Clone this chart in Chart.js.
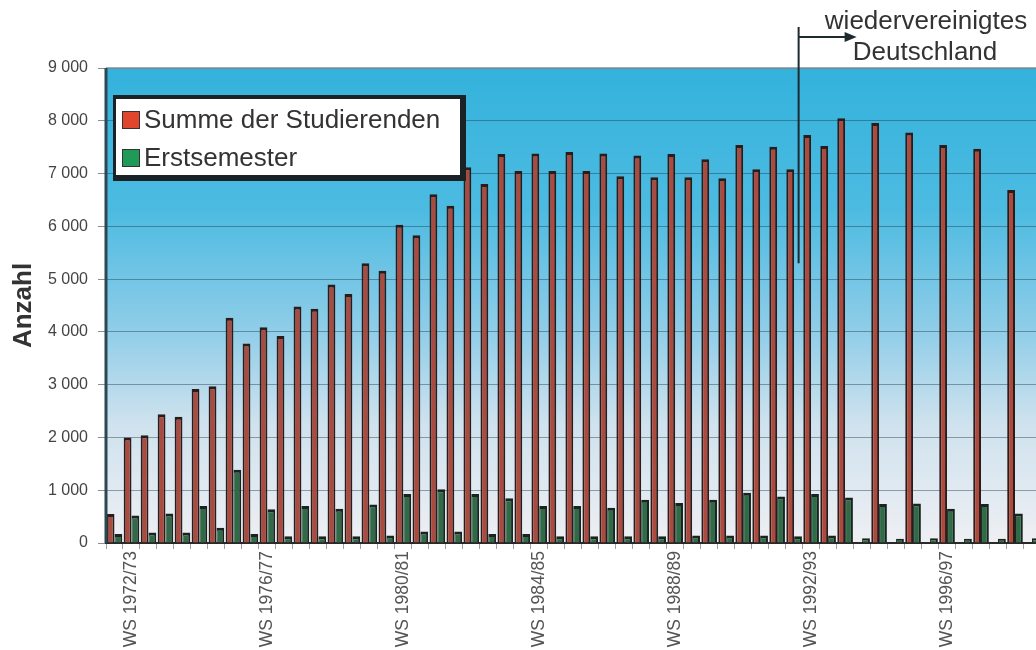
<!DOCTYPE html>
<html>
<head>
<meta charset="utf-8">
<script src="https://cdn.jsdelivr.net/npm/chart.js@4/dist/chart.umd.min.js"></script>
<style>
  html, body { margin: 0; padding: 0; background: #fff; overflow: hidden; }
  #wrap { width: 1036px; height: 650px; overflow: hidden; position: relative; }
  #inner { width: 1055px; height: 650px; position: absolute; left: 0; top: 0; }
</style>
</head>
<body>
<div id="wrap"><div id="inner"><canvas id="studChart"></canvas></div></div>
<script>
// Semester (SS = Sommersemester, WS = Wintersemester)
const semesters = [
  "SS 1972", "WS 1972/73", "SS 1973", "WS 1973/74", "SS 1974", "WS 1974/75",
  "SS 1975", "WS 1975/76", "SS 1976", "WS 1976/77", "SS 1977", "WS 1977/78",
  "SS 1978", "WS 1978/79", "SS 1979", "WS 1979/80", "SS 1980", "WS 1980/81",
  "SS 1981", "WS 1981/82", "SS 1982", "WS 1982/83", "SS 1983", "WS 1983/84",
  "SS 1984", "WS 1984/85", "SS 1985", "WS 1985/86", "SS 1986", "WS 1986/87",
  "SS 1987", "WS 1987/88", "SS 1988", "WS 1988/89", "SS 1989", "WS 1989/90",
  "SS 1990", "WS 1990/91", "SS 1991", "WS 1991/92", "SS 1992", "WS 1992/93",
  "SS 1993", "WS 1993/94", "SS 1994", "WS 1994/95", "SS 1995", "WS 1995/96",
  "SS 1996", "WS 1996/97", "SS 1997", "WS 1997/98", "SS 1998", "WS 1998/99",
  "SS 1999"
];

// Summe der Studierenden
const summeStudierende = [
  550, 2000, 2040, 2440, 2390, 2920, 2970, 4270, 3780, 4090, 3920, 4480,
  4440, 4900, 4720, 5300, 5160, 6030, 5830, 6610, 6390, 7120, 6800, 7370,
  7050, 7380, 7050, 7410, 7050, 7380, 6950, 7340, 6930, 7370, 6930, 7270,
  6910, 7540, 7080, 7510, 7080, 7730, 7520, 8050, null, 7960, null, 7780,
  null, 7540, null, 7470, null, 6690, null
];

// Erstsemester
const erstsemester = [
  170, 520, 200, 560, 200, 700, 290, 1390, 170, 640, 130, 700,
  130, 650, 130, 730, 140, 930, 220, 1020, 220, 930, 170, 850,
  170, 700, 130, 700, 130, 670, 130, 820, 130, 760, 140, 820,
  140, 950, 140, 880, 130, 930, 140, 860, 90, 740, 80, 750,
  90, 650, 80, 740, 80, 560, 90
];

const yTicks = [0, 1000, 2000, 3000, 4000, 5000, 6000, 7000, 8000, 9000];

// first semester after the reunification marker
const wendeIndex = semesters.indexOf("WS 1992/93");

const fmt = (v) => String(v).replace(/\B(?=(\d{3})+(?!\d))/g, " ");

// gradient background of the plot area
const bgPlugin = {
  id: "bg",
  beforeDraw(chart) {
    const { ctx, chartArea: a } = chart;
    const g = ctx.createLinearGradient(0, a.top, 0, a.bottom);
    g.addColorStop(0, "#33b2dc");
    g.addColorStop(0.3, "#4dbbe1");
    g.addColorStop(0.55, "#8fcde8");
    g.addColorStop(0.75, "#cfe2ee");
    g.addColorStop(1, "#eeeff3");
    ctx.save();
    ctx.fillStyle = g;
    ctx.fillRect(a.left, a.top, a.right - a.left, a.bottom - a.top);
    ctx.restore();
  },
  afterDatasetsDraw(chart) {
    const { ctx, chartArea: a } = chart;
    ctx.save();
    // top border
    ctx.strokeStyle = "#8a8f94";
    ctx.lineWidth = 1.5;
    ctx.beginPath();
    ctx.moveTo(a.left, a.top);
    ctx.lineTo(a.right, a.top);
    ctx.stroke();
    // left wall
    ctx.strokeStyle = "#2c4852";
    ctx.lineWidth = 3;
    ctx.beginPath();
    ctx.moveTo(a.left, a.top);
    ctx.lineTo(a.left, a.bottom);
    ctx.stroke();
    ctx.restore();
  }
};

// legend box inside the plot
const legendPlugin = {
  id: "legendBox",
  afterDraw(chart) {
    const { ctx, chartArea: a } = chart;
    const x = a.left + 7, y = 95, w = 350, h = 83;
    ctx.save();
    ctx.fillStyle = "#1b2226";
    ctx.fillRect(x, y, w + 3, h + 3);
    ctx.fillStyle = "#ffffff";
    ctx.fillRect(x + 3, y + 4, w - 6, h - 7);
    const boxColors = ["#e0462e", "#1f9a57"];
    ctx.font = "26px 'Liberation Sans', Arial, sans-serif";
    ctx.textBaseline = "middle";
    chart.data.datasets.forEach((ds, i) => {
      const cy = y + 25 + i * 38;
      ctx.fillStyle = "#333";
      ctx.fillRect(x + 9, cy - 9, 18, 18);
      ctx.fillStyle = boxColors[i];
      ctx.fillRect(x + 10, cy - 8, 16, 16);
      ctx.fillStyle = "#333";
      ctx.fillText(ds.label, x + 31, cy + 1);
    });
    ctx.restore();
  }
};

// reunification marker with arrow and text
const wendePlugin = {
  id: "wende",
  afterDraw(chart) {
    const { ctx } = chart;
    const xs = chart.scales.x, ys = chart.scales.y;
    const lx = (xs.getPixelForValue(wendeIndex - 1) + xs.getPixelForValue(wendeIndex)) / 2 - 4;
    const yBottom = ys.getPixelForValue(5300);
    ctx.save();
    ctx.strokeStyle = "#1f2a30";
    ctx.lineWidth = 2;
    ctx.beginPath();
    ctx.moveTo(lx, 27);
    ctx.lineTo(lx, yBottom);
    ctx.moveTo(lx, 37);
    ctx.lineTo(lx + 48, 37);
    ctx.stroke();
    ctx.fillStyle = "#1f2a30";
    ctx.beginPath();
    ctx.moveTo(lx + 58, 37);
    ctx.lineTo(lx + 46, 32);
    ctx.lineTo(lx + 46, 42);
    ctx.closePath();
    ctx.fill();
    ctx.fillStyle = "#333";
    ctx.font = "26px 'Liberation Sans', Arial, sans-serif";
    ctx.textAlign = "center";
    ctx.textBaseline = "middle";
    ctx.fillText("wiedervereinigtes", 926, 22);
    ctx.fillText("Deutschland", 925, 53);
    ctx.restore();
  }
};

const ctx = document.getElementById("studChart").getContext("2d");

new Chart(ctx, {
  type: "bar",
  data: {
    labels: semesters,
    datasets: [
      {
        label: "Summe der Studierenden",
        data: summeStudierende,
        backgroundColor: "#ad4a3d",
        borderColor: "#2a1c1a",
        borderWidth: { top: 3, left: 2, right: 2, bottom: 0 },
        borderSkipped: "bottom"
      },
      {
        label: "Erstsemester",
        data: erstsemester,
        backgroundColor: "#2f6b47",
        borderColor: "#1a2320",
        borderWidth: { top: 3, left: 1, right: 2, bottom: 0 },
        borderSkipped: "bottom"
      }
    ]
  },
  options: {
    responsive: true,
    maintainAspectRatio: false,
    animation: false,
    categoryPercentage: 0.92,
    barPercentage: 1.0,
    layout: { padding: { top: 68, right: 0, left: 0, bottom: 0 } },
    plugins: {
      legend: { display: false },
      tooltip: { enabled: false }
    },
    scales: {
      x: {
        grid: {
          drawOnChartArea: false,
          drawTicks: true,
          tickLength: 6,
          color: "#9aa0a6"
        },
        border: { color: "#2a2a2a", width: 2 },
        ticks: {
          autoSkip: false,
          maxRotation: 90,
          minRotation: 90,
          padding: 2,
          color: "#555",
          font: { family: "'Liberation Sans', Arial, sans-serif", size: 17.5 },
          callback: (v, i) => (i % 8 === 1 ? semesters[i] : "")
        },
        afterFit(scale) { scale.height = 107; }
      },
      y: {
        min: 0,
        max: 9000,
        afterBuildTicks(scale) { scale.ticks = yTicks.map((v) => ({ value: v })); },
        grid: {
          color: "rgba(35, 60, 75, 0.45)",
          lineWidth: 1,
          tickLength: 8,
          tickColor: "#8a8f94"
        },
        border: { display: false },
        ticks: {
          color: "#444",
          padding: 10,
          font: { family: "'Liberation Sans', Arial, sans-serif", size: 16 },
          callback: (v) => fmt(v)
        },
        title: {
          display: true,
          text: "Anzahl",
          color: "#333",
          padding: { top: 8, bottom: 0 },
          font: { family: "'Liberation Sans', Arial, sans-serif", size: 26, weight: "bold" }
        },
        afterFit(scale) { scale.width = 106; }
      }
    }
  },
  plugins: [bgPlugin, legendPlugin, wendePlugin]
});
</script>
</body>
</html>
